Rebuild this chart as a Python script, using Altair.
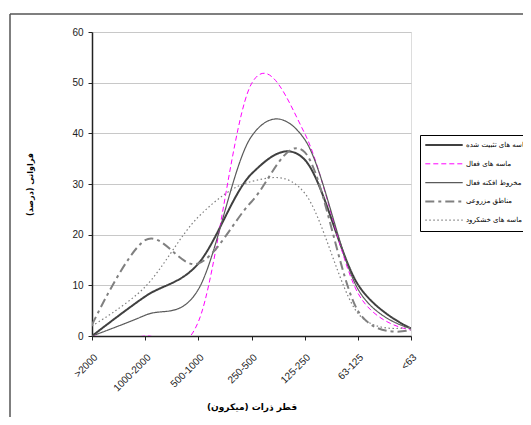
import altair as alt
import pandas as pd

categories = [">2000", "1000-2000", "500-1000", "250-500", "125-250", "63-125", "<63"]
series_names = ["ماسه های تثبیت شده", "ماسه های فعال", "مخروط افکنه فعال", "مناطق مزروعی", "ماسه های خشکرود"]
stabilized = [0.0, 7.8, 14.3, 32.0, 34.8, 10.2, 1.5]
active_sand = [0.0, 0.0, 2.8, 49.8, 40.0, 8.5, 1.2]
alluvial_fan = [0.0, 4.1, 9.2, 39.4, 38.8, 9.3, 1.5]
farmland = [2.2, 18.9, 14.3, 26.5, 36.3, 5.0, 1.2]
riverbed = [2.0, 9.7, 23.5, 30.5, 28.2, 4.5, 1.8]

colors = ["#404040", "#FF00FF", "#5a5a5a", "#808080", "#808080"]
dashes = [[1, 0], [5, 3], [1, 0], [9, 4, 3, 4], [1.5, 2.5]]
widths = [2.0, 1.0, 1.2, 2.0, 1.2]

rows = []
for name, vals in zip(series_names, [stabilized, active_sand, alluvial_fan, farmland, riverbed]):
    for c, v in zip(categories, vals):
        rows.append({"cat": c, "value": v, "series": name})
df = pd.DataFrame(rows)

FONT = "Liberation Sans, Arial, DejaVu Sans"
PFONT = "DejaVu Sans"

lines = alt.Chart(df).mark_line(interpolate="cardinal", tension=0, clip=True).encode(
    x=alt.X("cat:N", sort=categories,
            scale=alt.Scale(type="point", padding=0),
            axis=alt.Axis(title="قطر ذرات (میکرون)", labelAngle=315, labelFontSize=10,
                          labelFont=FONT, labelColor="#222", labelPadding=12,
                          tickSize=4, tickColor="#222", domainColor="#222", domainWidth=1.5,
                          gridColor="#c8c8c8", gridWidth=1.2,
                          titleFont=PFONT, titleFontSize=9, titleFontWeight="bold",
                          titleColor="#000", titlePadding=10)),
    y=alt.Y("value:Q", scale=alt.Scale(domain=[0, 60], nice=False),
            axis=alt.Axis(title="فراوانی (درصد)", values=[0, 10, 20, 30, 40, 50, 60],
                          labelFontSize=10, labelFont=FONT, labelColor="#222", labelPadding=5,
                          tickSize=4, tickColor="#222", domainColor="#222", domainWidth=1.5,
                          gridColor="#c8c8c8", gridWidth=1.2,
                          titleFont=PFONT, titleFontSize=8, titleFontWeight="bold",
                          titleColor="#000", titlePadding=37)),
    color=alt.Color("series:N", sort=series_names,
                    scale=alt.Scale(domain=series_names, range=colors),
                    legend=alt.Legend(title=None, orient="none", legendX=328, legendY=103,
                                      symbolType="stroke", symbolSize=1400, clipHeight=12,
                                      labelOffset=2,
                                      labelFont=PFONT, labelFontSize=7, labelColor="#000",
                                      rowPadding=6.8, padding=4,
                                      fillColor="white", strokeColor="#000")),
    strokeDash=alt.StrokeDash("series:N", sort=series_names,
                              scale=alt.Scale(type="ordinal", domain=series_names, range=dashes)),
    strokeWidth=alt.StrokeWidth("series:N", sort=series_names,
                                scale=alt.Scale(type="ordinal", domain=series_names, range=widths)),
)

frame_df = pd.DataFrame({"a": [0]})
frame_left = alt.Chart(frame_df).mark_rule(color="#555", strokeWidth=1.5).encode(
    x=alt.value(-82), y=alt.value(-18), y2=alt.value(420))
frame_top = alt.Chart(frame_df).mark_rule(color="#555", strokeWidth=1.5).encode(
    x=alt.value(-82), x2=alt.value(460), y=alt.value(-18))

chart = alt.layer(lines, frame_left, frame_top).properties(
    width=319, height=304,
    autosize=alt.AutoSizeParams(type="none"),
    padding={"left": 84, "top": 24, "right": 112, "bottom": 81},
).configure_view(stroke="#333", strokeWidth=1.2).configure(background="white")

chart.save("out.html", embed_options={"renderer": "svg", "actions": False})
